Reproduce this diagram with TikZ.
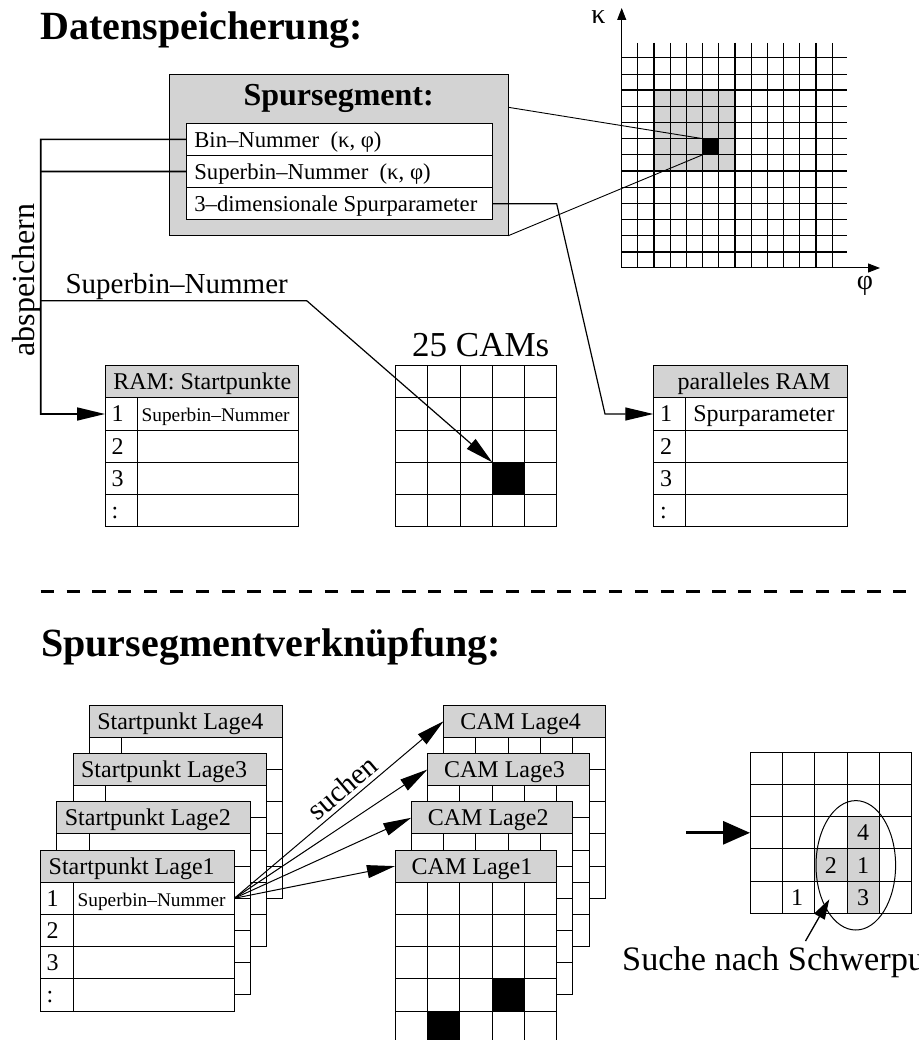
\documentclass[tikz,border=0pt]{standalone}
\usepackage{fontspec}
\setmainfont{Liberation Serif}
\usetikzlibrary{arrows.meta}
\definecolor{hdrgray}{RGB}{211,211,211}
\newcommand{\myfs}[1]{\fontsize{#1pt}{#1pt}\selectfont}
\tikzset{
  hdrbox/.style={draw, fill=hdrgray, inner sep=0pt, outer sep=0pt, anchor=north west, minimum height=32.2pt},
  rowbox/.style={draw, fill=white, inner sep=0pt, outer sep=0pt, anchor=north west, minimum height=32.2pt},
  lbl/.style={inner sep=0pt, outer sep=0pt, anchor=base west, font=\myfs{24}},
  smalllbl/.style={lbl, font=\myfs{19.3}},
  arr/.style={-{Triangle[length=28pt,width=13pt]}},
  gridln/.style={line width=0.8pt},
  gridthick/.style={line width=1.6pt},
}
% table: name, left, top, width, number of data rows
\newcommand{\tabbox}[5]{%
  \node[hdrbox, minimum width=#4pt] (#1-h) at (#2,#3) {};
  \foreach \i in {1,...,#5}{\node[rowbox, minimum width=#4pt] (#1-\i) at (#2,#3+32.2*\i) {};}
  \draw (#2+32.3,#3+32.2) -- (#2+32.3,#3+32.2*#5+32.2);
}
% CAM table: name, left, top
\newcommand{\camtab}[3]{%
  \node[hdrbox, minimum width=161.7pt] (#1-h) at (#2,#3) {};
  \foreach \i in {1,...,5}{\node[rowbox, minimum width=161.7pt] (#1-\i) at (#2,#3+32.2*\i) {};}
  \foreach \j in {1,...,4}{\draw (#2+32.34*\j,#3+32.2) -- (#2+32.34*\j,#3+193.2);}
}
\begin{document}
\begin{tikzpicture}[x=1pt,y=-1pt,line width=1pt]
\useasboundingbox (0,0) rectangle (918,1040);
\clip (0,0) rectangle (918,1040);

% ---------------- titles
\node[inner sep=0, anchor=base west, font=\bfseries\myfs{40}] (title1) at (40,40) {Datenspeicherung:};
\node[inner sep=0, anchor=base west, font=\bfseries\myfs{40}] (title2) at (40.7,656) {Spursegmentverknüpfung:};

% ---------------- kappa/phi grid
\fill[hdrgray] (654.04,90.13) rectangle (734.89,170.98);
\foreach \k in {1,...,13}{
  \draw[gridln] (621.7+16.17*\k,43) -- (621.7+16.17*\k,268);
  \draw[gridln] (621.7,268-16.17*\k) -- (847,268-16.17*\k);
}
\foreach \k in {2,7,12}{\draw[gridthick] (621.7+16.17*\k,43) -- (621.7+16.17*\k,268);}
\foreach \k in {1,6,11}{\draw[gridthick] (621.7,268-16.17*\k) -- (847,268-16.17*\k);}
\node[fill=black, inner sep=0, outer sep=0, anchor=north west, minimum size=16.17pt] (blk) at (702.55,138.64) {};
\coordinate (O) at (621.7,268);
\coordinate (kend) at (621.7,8);
\coordinate (pend) at (880,268);
\draw[-{Triangle[length=12pt,width=9pt]}] (O) -- (kend);
\draw[-{Triangle[length=12pt,width=9pt]}] (O) -- (pend);
\node[inner sep=0, font=\myfs{28}] (kap) at (598.5,17) {κ};
\node[inner sep=0, font=\myfs{28}] (phi) at (865,286) {φ};

% ---------------- Spursegment box
\node[draw, fill=hdrgray, inner sep=0, outer sep=0, anchor=north west, minimum width=339.3pt, minimum height=160.7pt] (seg) at (169,75) {};
\node[inner sep=0, anchor=base, font=\bfseries\myfs{32}] (segt) at (338.7,106) {Spursegment:};
\node[rowbox, minimum width=306.3pt] (sr1) at (186,123.3) {};
\node[rowbox, minimum width=306.3pt] (sr2) at (186,155.5) {};
\node[rowbox, minimum width=306.3pt] (sr3) at (186,187.7) {};
\node[lbl, font=\myfs{22.7}] (sr1t) at (194.3,147.3) {Bin–Nummer~~(κ, φ)};
\node[lbl, font=\myfs{22.7}] (sr2t) at (194.3,179.5) {Superbin–Nummer~~(κ, φ)};
\node[lbl, font=\myfs{22.7}] (sr3t) at (194.3,211.7) {3–dimensionale Spurparameter};

% ---------------- RAM: Startpunkte
\tabbox{ram}{105}{365.7}{193.7}{4}
\node[lbl] (ramht) at (113.3,389.7) {RAM: Startpunkte};
\foreach \i/\t in {1/1,2/2,3/3,4/:}{\node[lbl] (ram-n\i) at (111.5,365.7+32.2*\i+24) {\t};}
\node[smalllbl] (ram-1t) at (141.7,421.9) {Superbin–Nummer};

% ---------------- 25 CAMs
\node[draw, fill=white, inner sep=0, outer sep=0, anchor=north west, minimum width=161pt, minimum height=161pt] (cams) at (395.7,365.7) {};
\foreach \k in {1,...,4}{
  \draw (395.7+32.2*\k,365.7) -- (395.7+32.2*\k,526.7);
  \draw (395.7,365.7+32.2*\k) -- (556.7,365.7+32.2*\k);
}
\node[fill=black, draw, inner sep=0, outer sep=0, anchor=north west, minimum size=32.2pt] (camblk) at (492.3,462.3) {};
\node[inner sep=0, anchor=base west, font=\myfs{35}] (camst) at (411.7,356.7) {25 CAMs};

% ---------------- paralleles RAM
\tabbox{pram}{653.3}{365.7}{194}{4}
\node[lbl] (pramht) at (677.7,389.7) {paralleles RAM};
\foreach \i/\t in {1/1,2/2,3/3,4/:}{\node[lbl] (pram-n\i) at (660,365.7+32.2*\i+24) {\t};}
\node[lbl] (pram-1t) at (693.3,421.9) {Spurparameter};

% ---------------- connectors, upper part
\coordinate (c1) at (40.7,139.4);
\coordinate (c2) at (40.7,171.6);
\coordinate (c3) at (40.7,300.7);
\coordinate (c3b) at (306.7,300.7);
\coordinate (c4) at (40.7,414);
\draw[line width=1.7pt, arr] (sr1.west) -- (c1) -- (c4) -- (ram-1.west);
\draw[line width=1.7pt] (sr2.west) -- (c2);
\draw[line width=1.2pt, arr] (c3) -- (c3b) -- (camblk.north west);
\node[inner sep=0, anchor=base west, font=\myfs{29}] (sbl) at (65,293.3) {Superbin–Nummer};
\node[inner sep=0, anchor=base, rotate=90, font=\myfs{32}] (absp) at (34,280) {abspeichern};

\coordinate (sp1) at (556.7,203.8);
\coordinate (sp2) at (605,414);
\draw[line width=1.2pt, arr] (sr3.east) -- (sp1) -- (sp2) -- (pram-1.west);

\coordinate (segA) at (508.3,107.3);
\draw[line width=0.9pt] (segA) -- (blk.north west);
\draw[line width=0.9pt] (seg.south east) -- (blk.south west);

% ---------------- dashed separator
\coordinate (d1) at (40.7,591.7);
\coordinate (d2) at (906,591.7);
\draw[line width=3pt, dash pattern=on 13.3pt off 12.53pt] (d1) -- (d2);

% ---------------- Startpunkt stack
\tabbox{lg4}{89.3}{705.1}{193.6}{5}
\node[lbl] (lg4t) at (97.3,729.1) {Startpunkt Lage4};
\tabbox{lg3}{73.1}{753.4}{193.6}{5}
\node[lbl] (lg3t) at (81.1,777.4) {Startpunkt Lage3};
\tabbox{lg2}{56.9}{801.7}{193.6}{5}
\node[lbl] (lg2t) at (64.9,825.7) {Startpunkt Lage2};
\tabbox{lg1}{40.7}{850}{193.6}{4}
\node[lbl] (lg1t) at (48.7,874) {Startpunkt Lage1};
\foreach \i/\t in {1/1,2/2,3/3,4/:}{\node[lbl] (lg1-n\i) at (46.7,850+32.2*\i+24) {\t};}
\node[smalllbl] (lg1-1t) at (77.7,906.2) {Superbin–Nummer};

% ---------------- CAM stack
\camtab{cam4}{443.6}{705.1}
\node[lbl] (cam4t) at (460.3,729.1) {CAM Lage4};
\camtab{cam3}{427.4}{753.4}
\node[lbl] (cam3t) at (444.1,777.4) {CAM Lage3};
\camtab{cam2}{411.2}{801.7}
\node[lbl] (cam2t) at (427.9,825.7) {CAM Lage2};
\camtab{cam1}{395}{850}
\node[lbl] (cam1t) at (411.7,874) {CAM Lage1};
\node[fill=black, draw, inner sep=0, outer sep=0, anchor=north west, minimum width=32.34pt, minimum height=32.2pt] (cb1) at (492.0,978.8) {};
\node[fill=black, draw, inner sep=0, outer sep=0, anchor=north west, minimum width=32.34pt, minimum height=32.2pt] (cb2) at (427.3,1011) {};

\foreach \k in {1,...,4}{\draw[arr] (lg1-1.east) -- (cam\k-h.west);}
\node[inner sep=0, anchor=base, rotate=40.4, font=\myfs{29.5}] (such) at (348.5,795.1) {suchen};

% ---------------- centroid grid
\fill[hdrgray] (847.0,816.7) rectangle (879.4,848.9);
\fill[hdrgray] (814.7,848.9) rectangle (879.4,881.1);
\fill[hdrgray] (847.0,881.1) rectangle (879.4,913.3);
\node[draw, inner sep=0, outer sep=0, anchor=north west, minimum width=161.7pt, minimum height=161pt] (rg) at (750,752.3) {};
\foreach \k in {1,...,4}{
  \draw (750+32.34*\k,752.3) -- (750+32.34*\k,913.3);
  \draw (750,752.3+32.2*\k) -- (911.7,752.3+32.2*\k);
}
\node[inner sep=0, anchor=base, font=\myfs{24}] (g4) at (863.2,840.9) {4};
\node[inner sep=0, anchor=base, font=\myfs{24}] (g2) at (830.9,873.1) {2};
\node[inner sep=0, anchor=base, font=\myfs{24}] (g1) at (863.2,873.1) {1};
\node[inner sep=0, anchor=base, font=\myfs{24}] (g3) at (863.2,905.3) {3};
\node[inner sep=0, anchor=base, font=\myfs{24}] (g1b) at (797,905.3) {1};
\draw (855.8,865.3) ellipse [x radius=39.8, y radius=64.7];
\coordinate (ta) at (686,832.8);
\draw[line width=3pt, -{Triangle[length=27pt,width=23pt]}] (ta) -- (rg.west);
\node[inner sep=0, anchor=base west, font=\myfs{34.3}] (st) at (621.7,970) {Suche nach Schwerpunkt};
\coordinate (pa) at (805.5,941);
\coordinate (pb) at (829.3,899.3);
\draw[line width=1.3pt, -{Triangle[length=20pt,width=12pt]}] (pa) -- (pb);
\end{tikzpicture}
\end{document}
